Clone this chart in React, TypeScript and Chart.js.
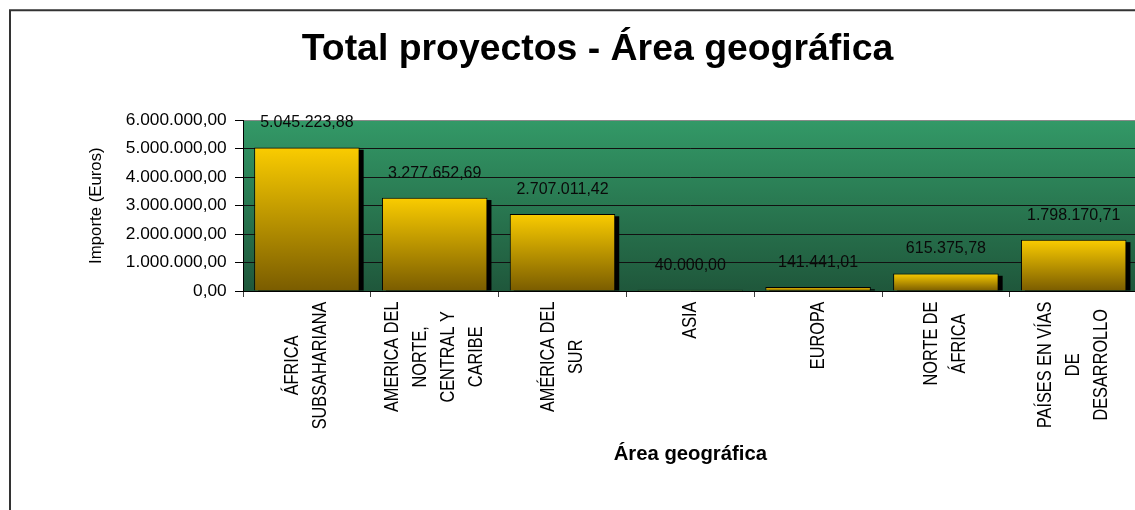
import React, { useEffect, useRef } from "react";
import { Chart, registerables } from "chart.js";

Chart.register(...registerables);

// ---- data ----
const categories: string[][] = [
  ["ÁFRICA", "SUBSAHARIANA"],
  ["AMERICA DEL", "NORTE,", "CENTRAL Y", "CARIBE"],
  ["AMÉRICA DEL", "SUR"],
  ["ASIA"],
  ["EUROPA"],
  ["NORTE DE", "ÁFRICA"],
  ["PAÍSES EN VÍAS", "DE", "DESARROLLO"],
];
const importes: number[] = [
  5045223.88, 3277652.69, 2707011.42, 40000.0, 141441.01, 615375.78, 1798170.71,
];
const yTickValues: number[] = [0, 1000000, 2000000, 3000000, 4000000, 5000000, 6000000];
const chartTitle = "Total proyectos - Área geográfica";
const xAxisTitle = "Área geográfica";
const yAxisTitle = "Importe (Euros)";

const SANS = "'Liberation Sans', Arial, sans-serif";

function fmt(v: number): string {
  const fixed = Math.abs(v).toFixed(2);
  const [intPart, dec] = fixed.split(".");
  const grouped = intPart.replace(/\B(?=(\d{3})+(?!\d))/g, ".");
  return (v < 0 ? "-" : "") + grouped + "," + dec;
}

function fontAvailable(family: string): boolean {
  const c = document.createElement("canvas").getContext("2d");
  if (!c) return false;
  const sample = "ImporteEurosÁFRICAmmmwwwiii0123";
  c.font = "40px monospace";
  const a = c.measureText(sample).width;
  c.font = `40px ${family}, monospace`;
  const b = c.measureText(sample).width;
  return Math.abs(a - b) > 0.5;
}

export default function App() {
  const ref = useRef<HTMLCanvasElement>(null);

  useEffect(() => {
    const canvas = ref.current;
    if (!canvas) return;
    const hasNarrow = fontAvailable("'Liberation Sans Narrow'");
    const catFamily = hasNarrow ? "'Liberation Sans Narrow', sans-serif" : SANS;
    const catScale = hasNarrow ? 1 : 0.82;

    const frameBg = {
      id: "frameBg",
      beforeDraw(chart: any) {
        const { ctx, chartArea: a } = chart;
        ctx.save();
        ctx.fillStyle = "#ffffff";
        ctx.fillRect(0, 0, chart.width, chart.height);
        ctx.strokeStyle = "#333333";
        ctx.lineWidth = 2;
        ctx.beginPath();
        ctx.moveTo(10, chart.height + 20);
        ctx.lineTo(10, 10.3);
        ctx.lineTo(chart.width + 20, 10.3);
        ctx.stroke();
        const g = ctx.createLinearGradient(0, a.top, 0, a.bottom);
        g.addColorStop(0, "#339967");
        g.addColorStop(1, "#1f573b");
        ctx.fillStyle = g;
        ctx.fillRect(a.left, a.top, a.right - a.left, a.bottom - a.top);
        ctx.restore();
      },
    };

    const barShadow = {
      id: "barShadow",
      beforeDatasetsDraw(chart: any) {
        const { ctx, chartArea: a } = chart;
        const meta = chart.getDatasetMeta(0);
        ctx.save();
        ctx.beginPath();
        ctx.rect(a.left, a.top, a.right - a.left, a.bottom - a.top);
        ctx.clip();
        ctx.fillStyle = "#000000";
        meta.data.forEach((el: any) => {
          const { x, y, base, width } = el.getProps(["x", "y", "base", "width"], true);
          const left = x - width / 2 + 4;
          const top = Math.min(y, base) + 2.3;
          const h = base - top;
          if (h > 0) ctx.fillRect(left, top, width, h);
        });
        ctx.restore();
      },
    };

    const valueLabels = {
      id: "valueLabels",
      afterDatasetsDraw(chart: any) {
        const { ctx } = chart;
        const meta = chart.getDatasetMeta(0);
        ctx.save();
        ctx.font = `16px ${SANS}`;
        ctx.fillStyle = "#0a0a0a";
        ctx.textAlign = "center";
        ctx.textBaseline = "middle";
        meta.data.forEach((el: any, i: number) => {
          const { x, y } = el.getProps(["x", "y"], true);
          ctx.fillText(fmt(importes[i]), x, y - 24.5);
        });
        ctx.restore();
      },
    };

    const categoryLabels = {
      id: "categoryLabels",
      afterDraw(chart: any) {
        const { ctx } = chart;
        const xs = chart.scales.x;
        ctx.save();
        ctx.font = `19.9px ${catFamily}`;
        ctx.fillStyle = "#000000";
        ctx.textAlign = "center";
        ctx.textBaseline = "middle";
        categories.forEach((lines, i) => {
          const cx = xs.getPixelForValue(i);
          const maxW = Math.max(...lines.map((l) => ctx.measureText(l).width * catScale));
          const cy = xs.top + 10.5 + maxW / 2;
          lines.forEach((line, j) => {
            const lx = cx + (j - (lines.length - 1) / 2) * 28.1;
            ctx.save();
            ctx.translate(lx, cy);
            ctx.rotate(-Math.PI / 2);
            ctx.scale(catScale, 1);
            ctx.fillText(line, 0, 0);
            ctx.restore();
          });
        });
        ctx.restore();
      },
    };

    const chart = new Chart(canvas, {
      type: "bar",
      data: {
        labels: categories,
        datasets: [
          {
            label: yAxisTitle,
            data: importes,
            backgroundColor: (ctx: any) => {
              const ch = ctx.chart;
              if (!ch.chartArea || ctx.type !== "data" || !ch.scales.y) return "#f5c400";
              const ys = ch.scales.y;
              const top = ys.getPixelForValue(ctx.raw as number);
              const bottom = ys.getPixelForValue(0);
              if (!isFinite(top) || !isFinite(bottom) || bottom - top < 1) return "#f5c400";
              const g = ch.ctx.createLinearGradient(0, top, 0, bottom);
              g.addColorStop(0, "#facc00");
              g.addColorStop(1, "#7a5c00");
              return g;
            },
            borderColor: "#000000",
            borderWidth: 1,
            barPercentage: 0.8255,
            categoryPercentage: 1,
          },
        ],
      },
      options: {
        responsive: false,
        animation: false,
        events: [],
        layout: { padding: { left: 57.4, right: 12.4, top: 10, bottom: 0 } },
        plugins: {
          legend: { display: false },
          tooltip: { enabled: false },
          title: {
            display: true,
            text: chartTitle,
            color: "#000000",
            font: { family: SANS, size: 37.4, weight: "bold", lineHeight: 1.2 },
            padding: { top: 17.6, bottom: 47.8 },
          },
        },
        scales: {
          x: {
            type: "category",
            offset: true,
            afterFit: (s: any) => {
              s.height = 219;
            },
            ticks: { display: false },
            grid: {
              offset: true,
              drawOnChartArea: false,
              drawTicks: true,
              tickLength: 6,
              tickColor: "#404040",
            },
            border: { display: true, color: "#000000", width: 1 },
            title: {
              display: true,
              text: xAxisTitle,
              color: "#000000",
              font: { family: SANS, size: 20.3, weight: "bold", lineHeight: 1.2 },
              padding: { top: 0, bottom: 43 },
            },
          },
          y: {
            min: 0,
            max: 6000000,
            afterBuildTicks: (s: any) => {
              s.ticks = yTickValues.map((v) => ({ value: v }));
            },
            afterFit: (s: any) => {
              s.width = 185.6;
            },
            ticks: {
              callback: (v: any) => fmt(Number(v)),
              color: "#000000",
              font: { family: SANS, size: 17.3 },
              padding: 8.3,
            },
            grid: {
              color: (c: any) => (c.tick && c.tick.value === 6000000 ? "#8a8a8a" : "#111111"),
              lineWidth: 1,
              drawTicks: true,
              tickLength: 8,
              tickColor: "#000000",
            },
            border: { display: true, color: "#000000", width: 1 },
            title: {
              display: true,
              text: yAxisTitle,
              color: "#000000",
              font: hasNarrow
                ? { family: "'Liberation Sans Narrow', sans-serif", size: 20.5, lineHeight: 1.2 }
                : { family: SANS, size: 16.8, lineHeight: 1.2 },
              padding: hasNarrow ? { top: 26.3, bottom: 0 } : { top: 28.5, bottom: 0 },
            },
          },
        },
      },
      plugins: [frameBg, barShadow, valueLabels, categoryLabels],
    } as any);

    return () => {
      chart.destroy();
    };
  }, []);

  return (
    <div
      style={{
        position: "fixed",
        left: 0,
        top: 0,
        width: 1135,
        height: 510,
        overflow: "hidden",
        background: "#ffffff",
      }}
    >
      <canvas ref={ref} width={1150} height={510} style={{ display: "block" }} />
    </div>
  );
}
